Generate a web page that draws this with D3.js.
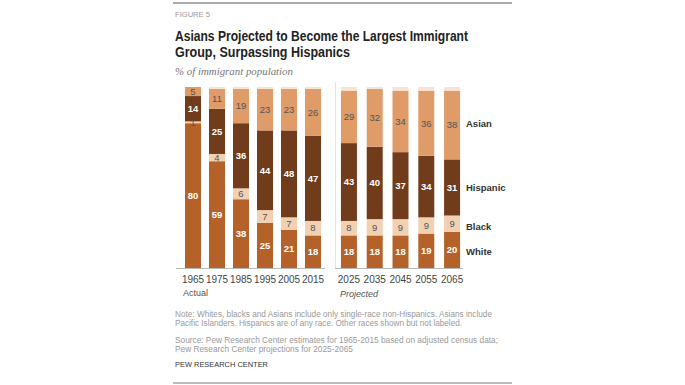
<!DOCTYPE html>
<html>
<head>
<meta charset="utf-8">
<script src="https://cdn.jsdelivr.net/npm/d3@7"></script>
<style>
  body { margin: 0; background: #fff; }
  svg { display: block; font-family: "Liberation Sans", Arial, sans-serif; }
</style>
</head>
<body>
<div id="chart"></div>
<script>
// values (% of immigrant population)
const actualYears = ["1965", "1975", "1985", "1995", "2005", "2015"];
const projectedYears = ["2025", "2035", "2045", "2055", "2065"];
const white    = [80, 59, 38, 25, 21, 18, 18, 18, 18, 19, 20];
const black    = [1, 4, 6, 7, 7, 8, 8, 9, 9, 9, 9];
const hispanic = [14, 25, 36, 44, 48, 47, 43, 40, 37, 34, 31];
const asian    = [5, 11, 19, 23, 23, 26, 29, 32, 34, 36, 38];
const other    = [0, 1, 1, 1, 1, 1, 2, 1, 2, 2, 2];
const groupKeys = ["white", "black", "hispanic", "asian", "other"];
const groupLabels = ["White", "Black", "Hispanic", "Asian"];

const colors = {
    white: "#b4622a",
    black: "#f2d0b2",
    hispanic: "#713c1c",
    asian: "#df9b68",
    other: "#f7e3d2"
};
const labelColors = { white: "#fff", black: "#555", hispanic: "#fff", asian: "#555" };

const width = 685, height = 385;
const svg = d3.select("#chart").append("svg")
    .attr("width", width)
    .attr("height", height);

const allYears = actualYears.concat(projectedYears);
const rows = allYears.map((yr, i) => ({
    year: yr,
    white: white[i], black: black[i], hispanic: hispanic[i], asian: asian[i], other: other[i]
}));
const series = d3.stack().keys(groupKeys)(rows);

const y = d3.scaleLinear().domain([0, 100]).range([268, 87]);

const xActual = d3.scaleBand().domain(actualYears)
    .range([181, 325]).paddingInner(1 / 3).paddingOuter(1 / 6);
const xProj = d3.scaleBand().domain(projectedYears)
    .range([335, 466]).paddingInner(0.38).paddingOuter(0.23);
const xOf = yr => actualYears.includes(yr) ? xActual(yr) : xProj(yr);
const bw = xActual.bandwidth();

// rules top and bottom
svg.append("line").attr("x1", 173).attr("x2", 512).attr("y1", 3).attr("y2", 3)
    .attr("stroke", "#aaa").attr("stroke-width", 2);
svg.append("line").attr("x1", 173).attr("x2", 512).attr("y1", 383).attr("y2", 383)
    .attr("stroke", "#bbb").attr("stroke-width", 2);

// header
svg.append("text").attr("x", 175).attr("y", 17)
    .attr("font-size", 8).attr("fill", "#999")
    .attr("textLength", 35).attr("lengthAdjust", "spacingAndGlyphs")
    .text("FIGURE 5");
svg.append("text").attr("x", 175).attr("y", 41)
    .attr("font-size", 14.5).attr("font-weight", "bold").attr("fill", "#222")
    .attr("textLength", 293).attr("lengthAdjust", "spacingAndGlyphs")
    .text("Asians Projected to Become the Largest Immigrant");
svg.append("text").attr("x", 175).attr("y", 57)
    .attr("font-size", 14.5).attr("font-weight", "bold").attr("fill", "#222")
    .attr("textLength", 175).attr("lengthAdjust", "spacingAndGlyphs")
    .text("Group, Surpassing Hispanics");
svg.append("text").attr("x", 175).attr("y", 75)
    .attr("font-size", 10).attr("font-style", "italic").attr("fill", "#777")
    .attr("font-family", "Liberation Serif, serif")
    .attr("textLength", 118).attr("lengthAdjust", "spacingAndGlyphs")
    .text("% of immigrant population");

// panel separator
svg.append("line").attr("x1", 335.5).attr("x2", 335.5).attr("y1", 82).attr("y2", 268)
    .attr("stroke", "#e4e4e4").attr("stroke-width", 1);

// bars
const layers = svg.append("g").selectAll("g")
    .data(series)
    .join("g")
    .attr("fill", d => colors[d.key]);

layers.selectAll("rect")
    .data(d => d)
    .join("rect")
    .attr("x", d => xOf(d.data.year))
    .attr("y", d => y(d[1]))
    .attr("width", bw)
    .attr("height", d => Math.max(0, y(d[0]) - y(d[1])));

// value labels
const labelled = series.filter(s => s.key !== "other");
labelled.forEach(s => {
    svg.append("g").selectAll("text")
        .data(s)
        .join("text")
        .attr("x", d => xOf(d.data.year) + bw / 2)
        .attr("y", d => (y(d[0]) + y(d[1])) / 2 + 3.3)
        .attr("text-anchor", "middle")
        .attr("font-size", 9.5)
        .attr("font-weight", s.key === "white" || s.key === "hispanic" ? "bold" : "normal")
        .attr("fill", labelColors[s.key])
        .text(d => d.data[s.key]);
});

// baselines
svg.append("line").attr("x1", 176).attr("x2", 325).attr("y1", 268.5).attr("y2", 268.5)
    .attr("stroke", "#bbb");
svg.append("line").attr("x1", 335).attr("x2", 463).attr("y1", 268.5).attr("y2", 268.5)
    .attr("stroke", "#bbb");

// year axes
const axActual = svg.append("g").attr("transform", "translate(0,268)")
    .call(d3.axisBottom(xActual).tickSize(0).tickPadding(8));
const axProj = svg.append("g").attr("transform", "translate(0,268)")
    .call(d3.axisBottom(xProj).tickSize(0).tickPadding(8));
[axActual, axProj].forEach(ax => {
    ax.select(".domain").remove();
    ax.selectAll("text").attr("font-size", 10).attr("fill", "#444")
        .attr("font-family", "Liberation Sans, Arial, sans-serif");
});

svg.append("text").attr("x", 183).attr("y", 296)
    .attr("font-size", 9).attr("fill", "#555").text("Actual");
svg.append("text").attr("x", 340).attr("y", 297)
    .attr("font-size", 9).attr("font-style", "italic").attr("fill", "#555").text("Projected");

// group labels at right, aligned to the 2065 segments
const lastIdx = allYears.length - 1;
const labelOffset = { white: 5, black: 6, hispanic: 4, asian: 2 };
groupKeys.slice(0, 4).forEach((k, i) => {
    const s = series.find(d => d.key === k)[lastIdx];
    svg.append("text")
        .attr("x", 466)
        .attr("y", (y(s[0]) + y(s[1])) / 2 + labelOffset[k])
        .attr("font-size", 9.5).attr("font-weight", "bold").attr("fill", "#333")
        .text(groupLabels[i]);
});

// notes
const notes = [
    { t: "Note: Whites, blacks and Asians include only single-race non-Hispanics. Asians include", y: 317, w: 317 },
    { t: "Pacific Islanders. Hispanics are of any race. Other races shown but not labeled.", y: 326, w: 287 },
    { t: "Source: Pew Research Center estimates for 1965-2015 based on adjusted census data;", y: 343, w: 323 },
    { t: "Pew Research Center projections for 2025-2065", y: 352, w: 178 }
];
svg.append("g").selectAll("text")
    .data(notes)
    .join("text")
    .attr("x", 175).attr("y", d => d.y)
    .attr("font-size", 8.3).attr("fill", "#999")
    .attr("textLength", d => d.w).attr("lengthAdjust", "spacingAndGlyphs")
    .text(d => d.t);
svg.append("text").attr("x", 175).attr("y", 367)
    .attr("font-size", 7.5).attr("fill", "#333")
    .attr("textLength", 93).attr("lengthAdjust", "spacingAndGlyphs")
    .text("PEW RESEARCH CENTER");
</script>
</body>
</html>
